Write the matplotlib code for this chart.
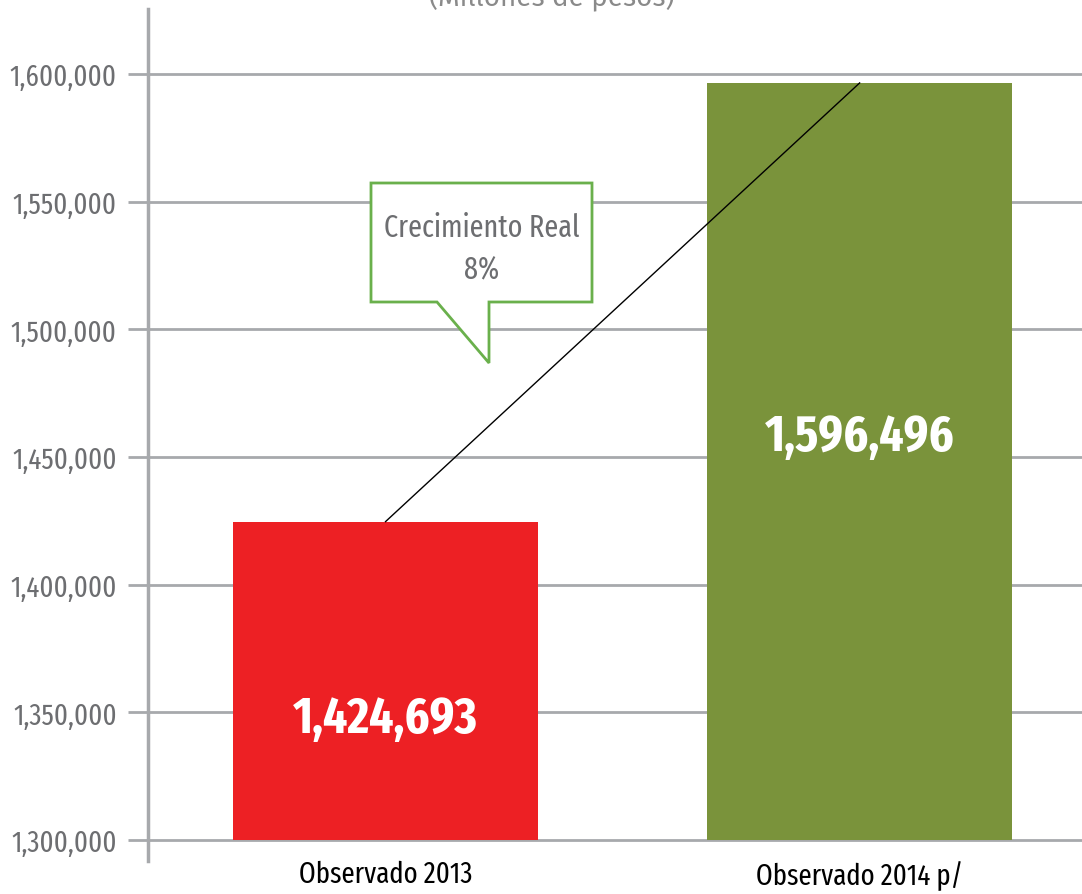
import matplotlib
matplotlib.use("Agg")
from matplotlib import pyplot as plt
from matplotlib.patches import Polygon
from matplotlib.ticker import FuncFormatter

#
# Data
#
categories = ["Observado 2013", "Observado 2014 p/"]
values = [1424693, 1596496]
bar_colors = ["#ed2024", "#7a933b"]
y_ticks = [1300000, 1350000, 1400000, 1450000, 1500000, 1550000, 1600000]
title_text = "(Millones de pesos)"
callout_text = "Crecimiento Real\n8%"

COND = ["Fira Sans Extra Condensed", "DejaVu Sans"]
GRAY = "#6d6e71"
GRID = "#a7a9ac"
BASE = 1300000

fig = plt.figure(figsize=(10.82, 8.95), dpi=100)
W, H = 1082, 895
ax = fig.add_axes([148 / W, 1 - 862 / H, 1 - 148 / W, (862 - 10) / H])

x = list(range(len(categories)))
heights = [v - BASE for v in values]
ax.bar(x, heights, bottom=BASE, width=0.643, color=bar_colors, zorder=2)

ax.set_xlim(-0.501, 1.469)
ax.set_ylim(1291775, 1625457)

# Grid lines
ax.set_yticks(y_ticks)
ax.yaxis.set_major_formatter(FuncFormatter(lambda v, p: f"{int(v):,}"))
ax.grid(axis="y", color=GRID, linewidth=2, zorder=1)
ax.tick_params(axis="y", direction="out", length=14.5, width=2, color=GRID,
               pad=8, labelsize=21, labelcolor=GRAY)
for lbl in ax.get_yticklabels():
    lbl.set_family(COND)

ax.set_xticks(x)
ax.set_xticklabels(categories, family=COND, fontsize=21, color="black")
ax.tick_params(axis="x", length=0, pad=-1)

for side in ["top", "right", "bottom"]:
    ax.spines[side].set_visible(False)
ax.spines["left"].set_color(GRID)
ax.spines["left"].set_linewidth(2.5)

# Growth line between bar tops
ax.plot(x, values, color="black", linewidth=1, zorder=3)

# Value labels
label_y = [1347400, 1457800]
for xi, v, ly in zip(x, values, label_y):
    ax.text(xi, ly, f"{v:,}", ha="center", va="center", color="white",
            fontsize=37, fontweight="bold", family=COND, zorder=4)

# Callout box
pts = [(371, 184), (592, 184), (592, 303), (489, 303), (489, 364),
       (437, 303), (371, 303)]
poly = Polygon([(xp / W, 1 - yp / H) for xp, yp in pts], closed=True,
               transform=fig.transFigure, facecolor="white",
               edgecolor="#6ab04c", linewidth=2, zorder=5)
fig.patches.append(poly)
fig.text(482 / W, 1 - 249 / H, callout_text, ha="center", va="center",
         color=GRAY, fontsize=22, family=COND,
         linespacing=1.5, zorder=6)

# Title (cut off at top)
fig.text(552 / W, 1 - 6 / H, title_text, ha="center", va="baseline",
         color="#8a8a8a", fontsize=20, family=["Fira Sans", "DejaVu Sans"])

fig.savefig("out.png", dpi=100)
